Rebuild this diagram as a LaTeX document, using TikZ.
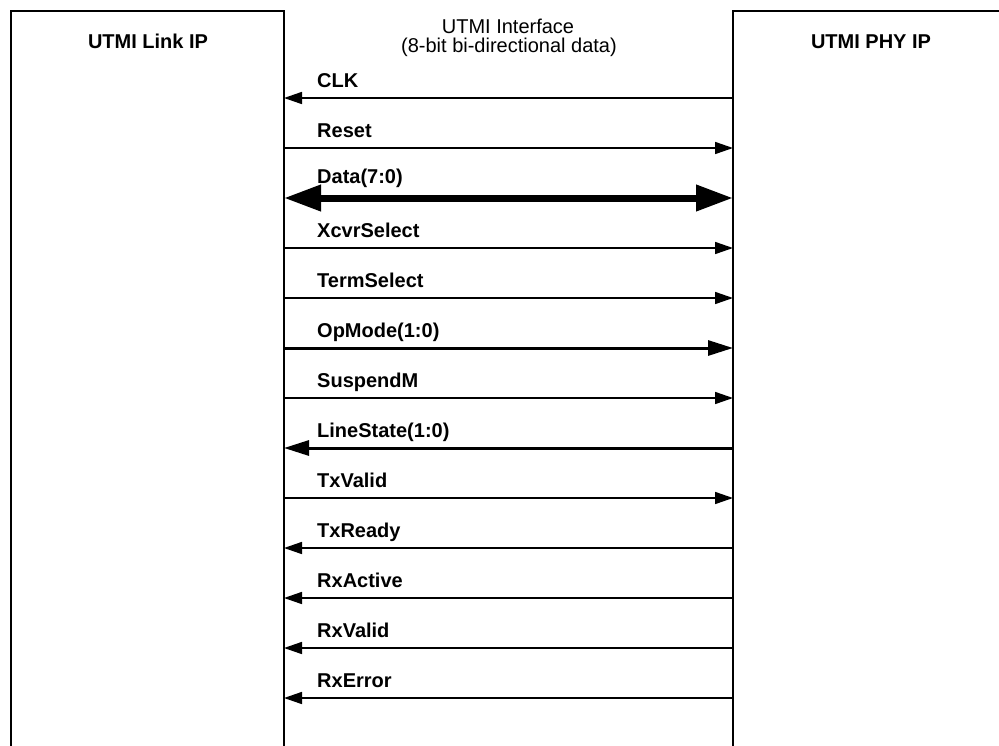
\documentclass[tikz,border=0pt]{standalone}
\usepackage{fontspec}
\setmainfont{Liberation Sans}
\usetikzlibrary{arrows.meta, positioning}

\begin{document}
\begin{tikzpicture}[
    x=1pt, y=-1pt,
    block/.style={line width=1.6pt},
    heading/.style={anchor=base, inner sep=0pt, font=\fontsize{20}{20}\selectfont},
    boxname/.style={anchor=base, inner sep=0pt, font=\fontsize{20}{20}\selectfont\bfseries},
    sig/.style={anchor=base west, inner sep=0pt, font=\fontsize{20}{20}\selectfont\bfseries},
    wire/.style={line width=1.6pt, -{Triangle[length=18pt, width=12pt]}},
    bus/.style={line width=3pt, -{Triangle[length=25pt, width=15pt]}},
    wide/.style={line width=7pt, {Triangle[length=37pt, width=25pt]}-{Triangle[length=37pt, width=25pt]}}
]
    \useasboundingbox (0,0) rectangle (999,745);

    % the two blocks, open at the bottom
    \draw[block] (11,760) -- (11,11) -- (284,11) -- (284,760);
    \draw[block] (733,760) -- (733,11) -- (1010,11);
    \node[boxname] (link) at (148,48) {UTMI Link IP};
    \node[boxname] (phy) at (871,48) {UTMI PHY IP};

    \node[heading] (iface) at (508,33) {UTMI Interface};
    \node[heading] (ifacenote) at (509,52) {(8-bit bi-directional data)};

    % signals between link and phy
    \foreach \name/\from/\to/\kind/\lift [count=\i] in {
        CLK/ph/lk/wire/0, Reset/lk/ph/wire/0, Data(7:0)/lk/ph/wide/4,
        XcvrSelect/lk/ph/wire/0, TermSelect/lk/ph/wire/0, OpMode(1:0)/lk/ph/bus/0,
        SuspendM/lk/ph/wire/0, LineState(1:0)/ph/lk/bus/0, TxValid/lk/ph/wire/0,
        TxReady/ph/lk/wire/0, RxActive/ph/lk/wire/0, RxValid/ph/lk/wire/0,
        RxError/ph/lk/wire/0}
    {
        \coordinate (lk\i) at (284,48+50*\i);
        \coordinate (ph\i) at (733,48+50*\i);
        \node[sig] (lbl\i) at (317,37+50*\i-\lift) {\name};
        \draw[\kind] (\from\i) -- (\to\i);
    }
\end{tikzpicture}
\end{document}
